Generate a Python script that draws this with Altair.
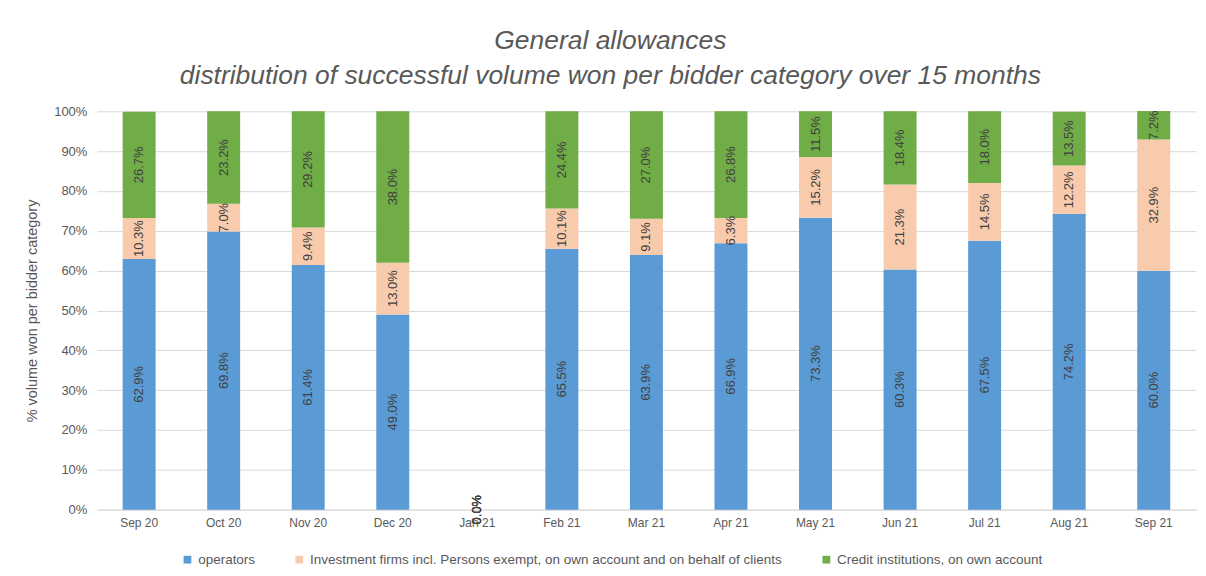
import altair as alt
import pandas as pd

months = ["Sep 20", "Oct 20", "Nov 20", "Dec 20", "Jan 21", "Feb 21", "Mar 21",
          "Apr 21", "May 21", "Jun 21", "Jul 21", "Aug 21", "Sep 21"]
categories = ["operators",
              "Investment firms incl. Persons exempt, on own account and on behalf of clients",
              "Credit institutions, on own account"]
operators = [62.9, 69.8, 61.4, 49.0, 0.0, 65.5, 63.9, 66.9, 73.3, 60.3, 67.5, 74.2, 60.0]
investment = [10.3, 7.0, 9.4, 13.0, 0.0, 10.1, 9.1, 6.3, 15.2, 21.3, 14.5, 12.2, 32.9]
credit = [26.7, 23.2, 29.2, 38.0, 0.0, 24.4, 27.0, 26.8, 11.5, 18.4, 18.0, 13.5, 7.2]
y_ticks = [0.0, 0.1, 0.2, 0.3, 0.4, 0.5, 0.6, 0.7, 0.8, 0.9, 1.0]
colors = ["#5B9BD5", "#F8CBAD", "#70AD47"]

rows = []
for i, m in enumerate(months):
    base = 0.0
    for k, (cat, series) in enumerate(zip(categories, [operators, investment, credit])):
        v = series[i] / 100.0
        rows.append({"month": m, "cat": cat, "order": k, "value": v,
                     "y0": base, "y1": base + v, "mid": base + v / 2,
                     "label": f"{series[i]:.1f}%"})
        base += v
df = pd.DataFrame(rows)

FONT = "Liberation Sans"
GREY = "#595959"

x_axis = alt.Axis(labelAngle=0, labelColor=GREY, labelFontSize=12, labelFont=FONT,
                  ticks=False, domainColor="#d9d9d9", labelPadding=8)
x_scale = alt.Scale(paddingInner=0.61, paddingOuter=0.305)
y_axis = alt.Axis(format=".0%", values=y_ticks, labelOverlap=False,
                  labelColor=GREY, labelFontSize=13, labelFont=FONT,
                  titleColor=GREY, titleFontSize=14.5, titleFont=FONT,
                  titleFontWeight="normal", ticks=False, domain=False,
                  gridColor="#d9d9d9", labelPadding=10, titlePadding=14)
y_title = "% volume won per bidder category"

bars = alt.Chart(df).mark_bar().encode(
    x=alt.X("month:N", sort=months, title=None, scale=x_scale, axis=x_axis),
    y=alt.Y("y0:Q", title=y_title, scale=alt.Scale(domain=[0, 1]), axis=y_axis),
    y2="y1:Q",
    color=alt.Color("cat:N", sort=categories, title=None,
                    scale=alt.Scale(domain=categories, range=colors),
                    legend=alt.Legend(orient="none", direction="horizontal",
                                      legendX=84, legendY=442,
                                      symbolType="square", symbolSize=60,
                                      labelColor=GREY, labelFontSize=13.5, labelFont=FONT,
                                      labelLimit=0, columnPadding=37,
                                      symbolStrokeWidth=0)),
)

text = alt.Chart(df).mark_text(angle=270, fontSize=13, font=FONT, color="#404040").encode(
    x=alt.X("month:N", sort=months, title=None, scale=x_scale, axis=x_axis),
    y=alt.Y("mid:Q", title=y_title, scale=alt.Scale(domain=[0, 1]), axis=y_axis),
    text="label:N",
)

chart = alt.layer(bars, text).properties(
    width=1101, height=399,
    padding={"left": 16, "top": 19, "right": 2, "bottom": 5},
    title=alt.TitleParams(["General allowances",
                           "distribution of successful volume won per bidder category over 15 months"],
                          font=FONT, fontSize=26.5, fontStyle="italic", fontWeight="normal",
                          color=GREY, anchor="middle", frame="bounds", offset=16, lineHeight=35),
).configure_view(stroke=None)

chart.save("out.html", embed_options={"renderer": "svg", "actions": False})
